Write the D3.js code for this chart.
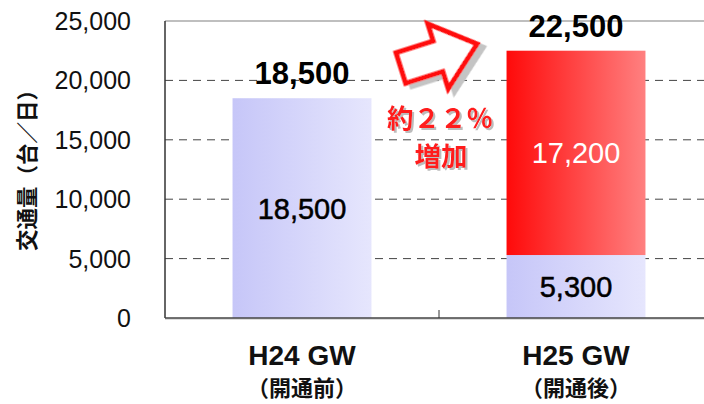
<!DOCTYPE html>
<html lang="ja">
<meta charset="UTF-8">
<title>交通量</title>
<script src="https://d3js.org/d3.v7.min.js"></script>
<style>
  body { margin: 0; background: #fff; }
  svg text { font-family: "Liberation Sans", Arial, sans-serif; }
  .jp { font-family: "Noto Sans CJK JP", sans-serif; font-weight: bold; }
</style>
<body>
<svg id="chart" width="704" height="404"></svg>
<script>
// data
const categories = ["H24 GW", "H25 GW"];
const subLabels = ["（開通前）", "（開通後）"];
const baseValues = [18500, 5300];
const increaseValues = [0, 17200];
const totalValues = [18500, 22500];
const yTicks = [0, 5000, 10000, 15000, 20000, 25000];

const svg = d3.select("#chart");
const plotLeft = 165, plotRight = 713, plotTop = 21, plotBottom = 318;

const x = d3.scaleBand().domain(categories).range([plotLeft, plotRight])
  .paddingInner(0.493).paddingOuter(0.2465);
const y = d3.scaleLinear().domain([0, 25000]).range([plotBottom, plotTop]);
const fmt = d3.format(",");

// gradients + shadows
const defs = svg.append("defs");
function grad(id, c0, c1) {
  const g = defs.append("linearGradient").attr("id", id)
    .attr("x1", "0%").attr("x2", "100%").attr("y1", "0%").attr("y2", "0%");
  g.append("stop").attr("offset", "0%").attr("stop-color", c0);
  g.append("stop").attr("offset", "100%").attr("stop-color", c1);
}
grad("blueGrad", "#c6c6f8", "#e6e6fd");
grad("redGrad", "#ff0a0a", "#ff8080");
function shadow(id, d, col) {
  defs.append("filter").attr("id", id)
    .attr("x", "-20%").attr("y", "-20%").attr("width", "150%").attr("height", "150%")
    .append("feDropShadow").attr("dx", d).attr("dy", d)
    .attr("stdDeviation", 0.4).attr("flood-color", col).attr("flood-opacity", 1);
}
shadow("txtShadow", 2, "#bcbcbc");
shadow("arrowShadow", 5, "#c4c4c4");

// gridlines
svg.append("g").selectAll("line")
  .data(yTicks.filter(d => d > 0 && d < 25000))
  .join("line")
  .attr("x1", plotLeft).attr("x2", 704)
  .attr("y1", d => y(d)).attr("y2", d => y(d))
  .attr("stroke", "#444").attr("stroke-width", 1)
  .attr("stroke-dasharray", "8,6");
svg.append("line")
  .attr("x1", plotLeft).attr("x2", 704).attr("y1", y(25000)).attr("y2", y(25000))
  .attr("stroke", "#aaa").attr("stroke-width", 1.5);

// bars
svg.append("g").selectAll("rect")
  .data(categories)
  .join("rect")
  .attr("x", d => x(d))
  .attr("width", x.bandwidth())
  .attr("y", (d, i) => y(baseValues[i]))
  .attr("height", (d, i) => y(0) - y(baseValues[i]))
  .attr("fill", "url(#blueGrad)");

svg.append("g").selectAll("rect")
  .data(categories.filter((d, i) => increaseValues[i] > 0))
  .join("rect")
  .attr("x", d => x(d))
  .attr("width", x.bandwidth())
  .attr("y", d => { const i = categories.indexOf(d); return y(baseValues[i] + increaseValues[i]); })
  .attr("height", d => { const i = categories.indexOf(d); return y(baseValues[i]) - y(baseValues[i] + increaseValues[i]); })
  .attr("fill", "url(#redGrad)");

// axes
svg.append("line").attr("x1", plotLeft).attr("x2", plotLeft).attr("y1", plotTop).attr("y2", plotBottom)
  .attr("stroke", "#333").attr("stroke-width", 1.5);
svg.append("line").attr("x1", plotLeft).attr("x2", 704).attr("y1", plotBottom + 1).attr("y2", plotBottom + 1)
  .attr("stroke", "#bbb").attr("stroke-width", 1);
svg.append("line").attr("x1", plotLeft).attr("x2", 704).attr("y1", plotBottom).attr("y2", plotBottom)
  .attr("stroke", "#444").attr("stroke-width", 1.5);
svg.append("line").attr("x1", x.step() + plotLeft).attr("x2", x.step() + plotLeft)
  .attr("y1", plotBottom - 8).attr("y2", plotBottom).attr("stroke", "#333");

// y tick labels
svg.append("g").selectAll("text")
  .data(yTicks)
  .join("text")
  .attr("x", 131).attr("y", d => y(d))
  .attr("dy", "0.36em")
  .attr("text-anchor", "end")
  .attr("font-size", 25)
  .attr("fill", "#111")
  .text(d => fmt(d));

// y title
svg.append("text")
  .attr("class", "jp")
  .attr("transform", "translate(35,165) rotate(-90)")
  .attr("text-anchor", "middle")
  .attr("font-size", 21.5)
  .attr("fill", "#111")
  .text("交通量（台／日）");

// x labels
const xl = svg.append("g").selectAll("g").data(categories).join("g");
xl.append("text")
  .attr("x", d => x(d) + x.bandwidth() / 2).attr("y", 365)
  .attr("text-anchor", "middle").attr("font-size", 28).attr("font-weight", "bold")
  .attr("fill", "#111").text(d => d);
xl.append("text")
  .attr("class", "jp")
  .attr("x", d => x(d) + x.bandwidth() / 2).attr("y", 396)
  .attr("text-anchor", "middle").attr("font-size", 22)
  .attr("fill", "#111").text((d, i) => subLabels[i]);

// value labels on top
svg.append("g").selectAll("text")
  .data(categories)
  .join("text")
  .attr("x", d => x(d) + x.bandwidth() / 2)
  .attr("y", (d, i) => y(totalValues[i]) - 14)
  .attr("text-anchor", "middle").attr("font-size", 31).attr("font-weight", "bold")
  .attr("fill", "#000").text((d, i) => fmt(totalValues[i]));

// inside labels
svg.append("g").selectAll("text")
  .data(categories)
  .join("text")
  .attr("x", d => x(d) + x.bandwidth() / 2)
  .attr("y", (d, i) => (y(0) + y(baseValues[i])) / 2)
  .attr("dy", "0.36em")
  .attr("text-anchor", "middle").attr("font-size", 29)
  .attr("fill", "#000").attr("stroke", "#000").attr("stroke-width", 0.5)
  .text((d, i) => fmt(baseValues[i]));
svg.append("g").selectAll("text")
  .data(categories.filter((d, i) => increaseValues[i] > 0))
  .join("text")
  .attr("x", d => x(d) + x.bandwidth() / 2)
  .attr("y", d => { const i = categories.indexOf(d); return (y(baseValues[i]) + y(baseValues[i] + increaseValues[i])) / 2; })
  .attr("dy", "0.36em")
  .attr("text-anchor", "middle").attr("font-size", 29)
  .attr("fill", "#fff").text(d => fmt(increaseValues[categories.indexOf(d)]));

// arrow
const arrowPts = [[-40, -16], [-1, -16], [-1, -34], [40, 0], [-1, 34], [-1, 16], [-40, 16]];
svg.append("path")
  .attr("d", "M" + arrowPts.map(p => p.join(",")).join("L") + "Z")
  .attr("transform", "translate(439,56) rotate(-17.5)")
  .attr("fill", "#fff").attr("stroke", "#ff1010").attr("stroke-width", 5)
  .attr("filter", "url(#arrowShadow)");

// increase text
const pct = d3.format(".0%")((totalValues[1] - totalValues[0]) / totalValues[0]);
const pctText = "約" + pct.replace(/[0-9%]/g, c => String.fromCharCode(c.charCodeAt(0) + 0xFEE0));
svg.append("text").attr("class", "jp")
  .attr("x", 440).attr("y", 128)
  .attr("text-anchor", "middle").attr("font-size", 26.5)
  .attr("fill", "#ff1a1a").attr("filter", "url(#txtShadow)")
  .text(pctText);
svg.append("text").attr("class", "jp")
  .attr("x", 441).attr("y", 166)
  .attr("text-anchor", "middle").attr("font-size", 26.5)
  .attr("fill", "#ff1a1a").attr("filter", "url(#txtShadow)")
  .text("増加");
</script>
</body>
</html>
